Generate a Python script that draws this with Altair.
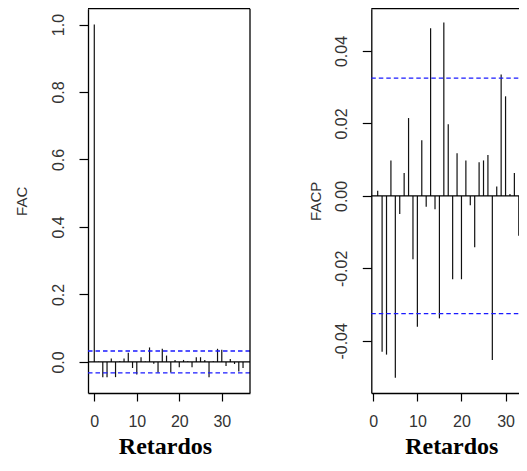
import altair as alt
import pandas as pd

# ---- data ----
acf_lags = list(range(0, 36))
acf_vals = [1.0, 0.001, -0.045, -0.045, 0.010, -0.045, 0.002, 0.010, 0.027, -0.018,
            -0.037, 0.014, 0.001, 0.043, -0.005, -0.031, 0.039, 0.019, -0.031, 0.006,
            -0.016, 0.006, 0.002, -0.016, 0.014, 0.014, 0.006, -0.045, 0.002, 0.039,
            0.036, -0.012, 0.009, -0.006, -0.028, -0.018]

pacf_lags = list(range(1, 36))
pacf_vals = [0.0014, -0.0430, -0.0438, 0.0098, -0.0502, -0.0050, 0.0063, 0.0215, -0.0175, -0.0361,
             0.0154, -0.0030, 0.0463, -0.0037, -0.0338, 0.0479, 0.0198, -0.0230, 0.0118, -0.0230,
             0.0098, -0.0026, -0.0142, 0.0093, 0.0098, 0.0113, -0.0453, 0.0026, 0.0335, 0.0275,
             0.0005, 0.0063, -0.0110, -0.0242, -0.0122]

conf_bound = 0.0325

acf_ticks_y = [0.0, 0.2, 0.4, 0.6, 0.8, 1.0]
pacf_ticks_y = [-0.04, -0.02, 0.0, 0.02, 0.04]
lag_ticks = [0, 10, 20, 30]

acf_df = pd.DataFrame({"lag": acf_lags, "value": acf_vals})
pacf_df = pd.DataFrame({"lag": pacf_lags, "value": pacf_vals})
one = pd.DataFrame({"a": [0]})

# ---- layout (pixels inside the drawing) ----
SVG_W, SVG_H = 511, 451
PLOT_TOP, PLOT_BOT = 0.65, 385
L_X0, L_X1 = 80, 242          # left panel plot area
R_X0, R_X1 = 363.3, 525.6     # right panel plot area (runs past the edge, cut like the reference)

LABEL_FONT = "Liberation Sans"
TITLE_FONT = "Liberation Serif"
BLUE = "#1a1aff"


def x_axis(title_x):
    return alt.Axis(orient="bottom", offset=-(SVG_H - PLOT_BOT), values=lag_ticks, format="d",
                    tickSize=8, tickColor="black", tickWidth=1.2,
                    domain=True, domainColor="black", domainWidth=1.3, grid=False,
                    labelFont=LABEL_FONT, labelFontSize=16, labelColor="#333",
                    labelBaseline="middle", labelPadding=20, labelFlush=False,
                    title="Retardos", titleFont=TITLE_FONT, titleFontSize=24,
                    titleFontWeight="bold", titleColor="black", titleX=title_x, titleY=60.5,
                    titleAlign="center", titleBaseline="alphabetic")


def y_axis(x_pos, values, title, title_x, fmt):
    return alt.Axis(orient="left", offset=-x_pos, values=values, labelExpr=fmt,
                    tickSize=9, tickColor="black", tickWidth=1.2,
                    domain=True, domainColor="black", domainWidth=1.3, grid=False,
                    labelFont=LABEL_FONT, labelFontSize=16, labelColor="#333",
                    labelAngle=270, labelAlign="center", labelBaseline="middle",
                    labelPadding=20.7, labelOverlap=False,
                    title=title, titleFont=LABEL_FONT, titleFontSize=15,
                    titleFontWeight="normal", titleColor="#333", titleAngle=270,
                    titleX=title_x, titleY=(PLOT_TOP + PLOT_BOT) / 2,
                    titleAlign="center", titleBaseline="middle")


def panel(df, xdom, ydom, xr, y_values, ytitle, ytitle_x, xtitle_x, fmt, right_border):
    xs = alt.Scale(domain=xdom, range=list(xr), nice=False, zero=False)
    ys = alt.Scale(domain=ydom, range=[PLOT_BOT, PLOT_TOP], nice=False, zero=False)
    bars = alt.Chart(df).mark_rule(color="#111", strokeWidth=1.2).encode(
        x=alt.X("lag:Q", scale=xs, axis=x_axis(xtitle_x)),
        y=alt.Y("value:Q", scale=ys, axis=y_axis(xr[0], y_values, ytitle, ytitle_x, fmt)),
        y2=alt.datum(0),
    )

    def hline(v, **kw):
        return alt.Chart(one).mark_rule(**kw).encode(
            x=alt.X(datum=xdom[0], scale=xs), x2=alt.datum(xdom[1]),
            y=alt.Y(datum=v, scale=ys))

    layers = [
        bars,
        hline(0, color="black", strokeWidth=1.2),
        hline(conf_bound, color=BLUE, strokeWidth=1.3, strokeDash=[4.5, 3]),
        hline(-conf_bound, color=BLUE, strokeWidth=1.3, strokeDash=[4.5, 3]),
        hline(ydom[1], color="black", strokeWidth=1.3),
    ]
    if right_border:
        layers.append(alt.Chart(one).mark_rule(color="black", strokeWidth=1.3).encode(
            x=alt.X(datum=xdom[1], scale=xs),
            y=alt.Y(datum=ydom[0], scale=ys), y2=alt.datum(ydom[1])))
    return alt.layer(*layers)


left = panel(acf_df, [-1.48, 36.64], [-0.092, 1.047], (L_X0, L_X1), acf_ticks_y,
             "FAC", 13.2 - L_X0, 157, "format(datum.value, '.1f')", True)

right = panel(pacf_df, [-0.45, 36.36], [-0.0544, 0.0517], (R_X0, R_X1), pacf_ticks_y,
              "FACP", 307.4 - R_X0, 443.3,
              "(datum.value < -0.0001 ? '-' : '') + format(abs(datum.value), '.2f')", False)

chart = alt.layer(left, right).resolve_scale(
    x="independent", y="independent"
).resolve_axis(
    x="independent", y="independent"
).properties(
    width=SVG_W, height=SVG_H,
    autosize=alt.AutoSizeParams(type="none"),
    padding=0,
    background="white",
).configure_view(stroke=None)

chart.save("out.html", embed_options={"renderer": "svg", "actions": False})
